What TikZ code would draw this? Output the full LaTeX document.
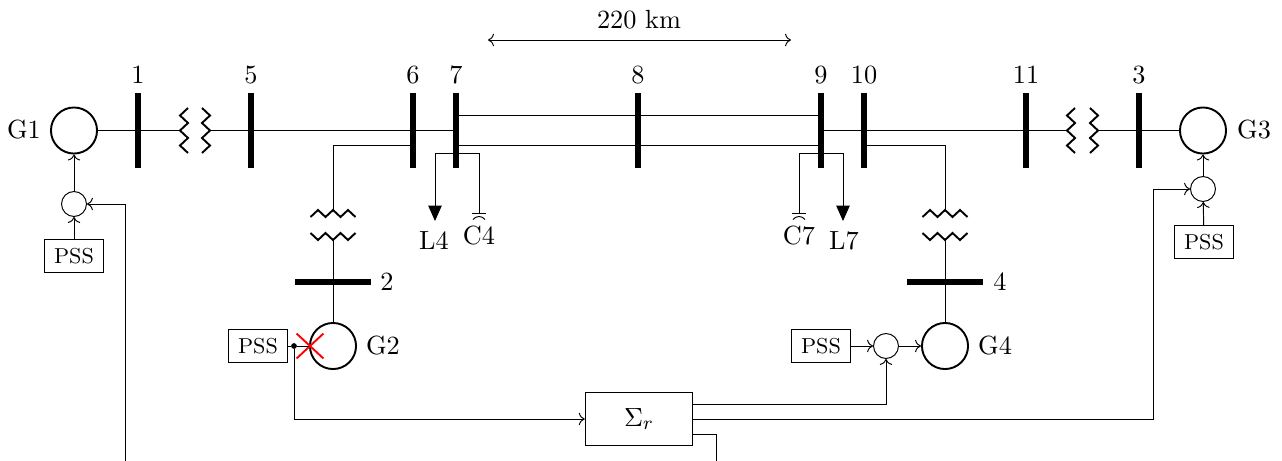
\documentclass[tikz,border=0pt,11pt]{standalone}
\usepackage{tikz}
\usetikzlibrary{arrows.meta,calc,shapes.misc}
\tikzset{
    vbus/.style={fill=black,inner sep=0pt,outer sep=0pt,minimum width=2.1pt,minimum height=31.2pt},
    hbus/.style={fill=black,inner sep=0pt,outer sep=0pt,minimum width=31.6pt,minimum height=2.1pt},
    gen/.style={draw,thick,circle,inner sep=0pt,minimum size=19.2pt},
    sumnode/.style={draw,circle,inner sep=0pt,minimum size=10.4pt},
    pss/.style={draw,inner sep=0pt,minimum width=24.2pt,minimum height=13.4pt,font=\footnotesize},
    sys/.style={draw,inner sep=0pt,minimum width=44.8pt,minimum height=21.7pt},
    loadtip/.style={-{Triangle[width=5.6pt,length=6.4pt]}},
    coilv/.pic={\draw[thick] (4,-22.5) -- (-4,-15) -- (4,-7.5) -- (-4,0) -- (4,7.5) -- (-4,15) -- (4,22.5);},
    coilh/.pic={\draw[thick] (-22.5,3.5) -- (-15,-3.5) -- (-7.5,3.5) -- (0,-3.5) -- (7.5,3.5) -- (15,-3.5) -- (22.5,3.5);},
    capdown/.pic={\draw (-7,0) -- (7,0); \draw (-6,6.5) .. controls (-3,2.5) and (3,2.5) .. (6,6.5);},
}
\begin{document}
\begin{tikzpicture}
    [
    x=0.4167pt,
    y=-0.4167pt,
    ]
    \useasboundingbox (0,0) rectangle (1282,460);
    % buses and their numbers
    \foreach \n/\xb in {1/138,5/251,6/413,7/456,8/638,9/821,10/864,11/1026,3/1139}{
      \node[vbus] (b\n) at (\xb,130.5) {};
      \node[inner sep=0pt] (lb\n) at (\xb,75) {\n};
    }
    \node[hbus] (b2) at (333,282) {};
    \node[hbus] (b4) at (945,282) {};
    \node[inner sep=0pt] (lb2) at (387,282) {2};
    \node[inner sep=0pt] (lb4) at (1000,282) {4};
    % generators
    \node[gen] (g1) at (74,130.5) {};
    \node[gen] (g2) at (333,346) {};
    \node[gen] (g3) at (1203,130.5) {};
    \node[gen] (g4) at (945,346) {};
    \node[inner sep=0pt] (lg1) at (24,130) {G1};
    \node[inner sep=0pt] (lg2) at (383,346) {G2};
    \node[inner sep=0pt] (lg3) at (1254,130) {G3};
    \node[inner sep=0pt] (lg4) at (995,346) {G4};
    % transformers
    \pic at (184,130.5) {coilv};
    \pic[xscale=-1] at (206,130.5) {coilv};
    \pic at (1071,130.5) {coilv};
    \pic[xscale=-1] at (1094,130.5) {coilv};
    \pic at (333,213.5) {coilh};
    \pic[yscale=-1] at (333,236.5) {coilh};
    \pic at (945,213.5) {coilh};
    \pic[yscale=-1] at (945,236.5) {coilh};
    \coordinate (t1l) at (180,130.5);
    \coordinate (t1r) at (210,130.5);
    \coordinate (t3l) at (1067,130.5);
    \coordinate (t3r) at (1098,130.5);
    \coordinate (t2u) at (333,210);
    \coordinate (t2d) at (333,240);
    \coordinate (t4u) at (945,210);
    \coordinate (t4d) at (945,240);
    % network
    \draw (g1) -- (b1) -- (t1l);
    \draw (t1r) -- (b5) -- (b6) -- (b7);
    \draw ($(b7)+(0,-15)$) -- ($(b8)+(0,-15)$) -- ($(b9)+(0,-15)$);
    \draw ($(b7)+(0,15)$) -- ($(b8)+(0,15)$) -- ($(b9)+(0,15)$);
    \draw (b9) -- (b10) -- (b11) -- (t3l);
    \draw (t3r) -- (b3) -- (g3);
    \draw (t2u) |- ($(b6)+(0,15)$);
    \draw (t4u) |- ($(b10)+(0,15)$);
    \draw (t2d) -- (b2) -- (g2);
    \draw (t4d) -- (b4) -- (g4);
    % loads and capacitors
    \coordinate (tap4) at (456,153);
    \coordinate (tap7) at (821,153);
    \coordinate (ld4) at (435,221);
    \coordinate (ld7) at (843,221);
    \coordinate (cp4) at (479,213);
    \coordinate (cp7) at (799,213);
    \draw[loadtip] (tap4) -| (ld4);
    \draw[loadtip] (tap7) -| (ld7);
    \draw (tap4) -| (cp4);
    \draw (tap7) -| (cp7);
    \pic at (cp4) {capdown};
    \pic at (cp7) {capdown};
    \node[inner sep=0pt] (ll4) at (434,241) {L4};
    \node[inner sep=0pt] (ll7) at (844,241) {L7};
    \node[inner sep=0pt] (lc4) at (479,236) {C4};
    \node[inner sep=0pt] (lc7) at (799,236) {C7};
    % distance
    \coordinate (dl) at (488,40);
    \coordinate (dr) at (791,40);
    \draw[<->] (dl) -- (dr);
    \node[inner sep=0pt] (dist) at (639,20) {220 km};
    % control
    \node[sumnode] (s1) at (74,204) {};
    \node[sumnode] (s3) at (1203,189) {};
    \node[sumnode] (s4) at (886,346) {};
    \node[pss] (p1) at (74,256) {PSS};
    \node[pss] (p2) at (258,346) {PSS};
    \node[pss] (p3) at (1204,242) {PSS};
    \node[pss] (p4) at (821,346) {PSS};
    \node[sys] (sigma) at (639,419) {$\Sigma_r$};
    \draw[->] (p1) -- (s1);
    \draw[->] (s1) -- (g1);
    \draw[->] (p3) -- (s3);
    \draw[->] (s3) -- (g3);
    \draw[->] (p4) -- (s4);
    \draw[->] (s4) -- (g4);
    \node[fill=black,circle,inner sep=0pt,minimum size=2.4pt] (dot) at (294,346) {};
    \node[cross out,draw=red,thick,inner sep=0pt,minimum width=10.4pt,minimum height=9.6pt] (brk) at (310,346) {};
    \draw (p2) -- (dot) -- (g2);
    \draw[->] (dot) |- (sigma);
    \coordinate (so1) at (692.5,404);
    \coordinate (so2) at (692.5,419);
    \coordinate (so3) at (692.5,434);
    \coordinate (fbr) at (716,461.6);
    \coordinate (fbl) at (125,461.6);
    \coordinate (up3) at (1153.5,419);
    \draw[->] (so1) -| (s4);
    \draw[->] (so2) -- (up3) |- (s3);
    \draw[->] (so3) -| (fbr) -- (fbl) |- (s1);
\end{tikzpicture}
\end{document}
